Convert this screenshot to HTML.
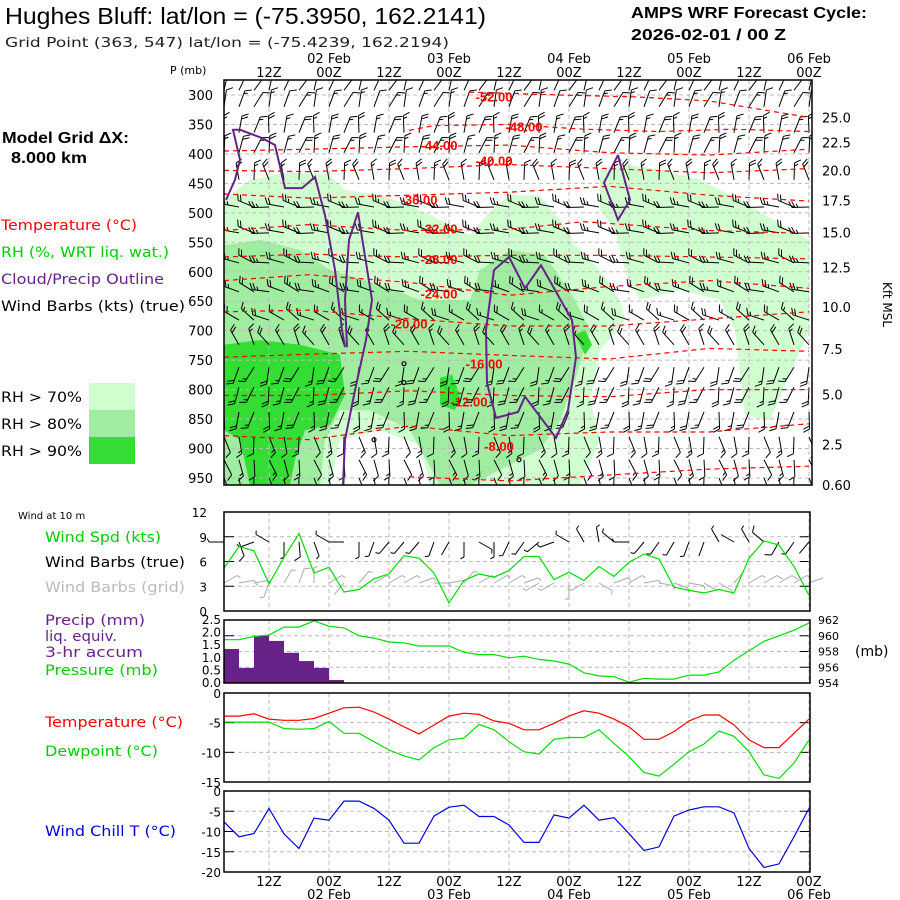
<!DOCTYPE html>
<html><head><meta charset="utf-8"><style>
html,body{margin:0;padding:0;background:#fff;}
svg{display:block;font-family:"DejaVu Sans","Liberation Sans",sans-serif;}
</style></head><body>
<svg id="chart" width="900" height="900" viewBox="0 0 900 900" xmlns="http://www.w3.org/2000/svg">
<rect width="900" height="900" fill="#fff"/>
<g>
<text x="5" y="24" font-family="Liberation Sans, sans-serif" font-size="23" textLength="481" lengthAdjust="spacingAndGlyphs">Hughes Bluff:  lat/lon = (-75.3950, 162.2141)</text>
<text x="5" y="47" font-size="13" fill="#222" textLength="444" lengthAdjust="spacingAndGlyphs">Grid Point (363, 547) lat/lon = (-75.4239, 162.2194)</text>
<text x="631" y="18" font-family="Liberation Sans, sans-serif" font-weight="bold" font-size="16" textLength="236" lengthAdjust="spacingAndGlyphs">AMPS WRF Forecast Cycle:</text>
<text x="631" y="40" font-family="Liberation Sans, sans-serif" font-weight="bold" font-size="16" textLength="155" lengthAdjust="spacingAndGlyphs">2026-02-01 / 00  Z</text>
<text x="2" y="143" font-family="Liberation Sans, sans-serif" font-weight="bold" font-size="16" textLength="127" lengthAdjust="spacingAndGlyphs">Model Grid ΔX:</text>
<text x="11" y="163" font-family="Liberation Sans, sans-serif" font-weight="bold" font-size="16" textLength="76" lengthAdjust="spacingAndGlyphs">8.000 km</text>
</g>
<g font-size="14">
<text x="1" y="230" fill="#ff0000" textLength="136" lengthAdjust="spacingAndGlyphs">Temperature (°C)</text>
<text x="1" y="257" fill="#00cc00" textLength="168" lengthAdjust="spacingAndGlyphs">RH (%, WRT liq. wat.)</text>
<text x="1" y="284" fill="#662288" textLength="163" lengthAdjust="spacingAndGlyphs">Cloud/Precip Outline</text>
<text x="1" y="311" fill="#000" textLength="184" lengthAdjust="spacingAndGlyphs">Wind Barbs (kts) (true)</text>
<text x="1" y="402" textLength="81" lengthAdjust="spacingAndGlyphs">RH &gt; 70%</text>
<text x="1" y="429" textLength="81" lengthAdjust="spacingAndGlyphs">RH &gt; 80%</text>
<text x="1" y="456" textLength="81" lengthAdjust="spacingAndGlyphs">RH &gt; 90%</text>
<rect x="89" y="383" width="46" height="27" fill="#d0ffd0"/>
<rect x="89" y="410" width="46" height="27" fill="#a0eca0"/>
<rect x="89" y="437" width="46" height="27" fill="#33dd33"/>
</g>
<g font-size="14">
<text x="18" y="519" font-size="10">Wind at 10 m</text>
<text x="45" y="542" fill="#00cc00" textLength="116" lengthAdjust="spacingAndGlyphs">Wind Spd (kts)</text>
<text x="45" y="567" fill="#000" textLength="140" lengthAdjust="spacingAndGlyphs">Wind Barbs (true)</text>
<text x="45" y="592" fill="#bbbbbb" textLength="140" lengthAdjust="spacingAndGlyphs">Wind Barbs (grid)</text>
<text x="45" y="625" fill="#662288" textLength="100" lengthAdjust="spacingAndGlyphs">Precip (mm)</text>
<text x="45" y="641" fill="#662288" textLength="72" lengthAdjust="spacingAndGlyphs">liq. equiv.</text>
<text x="45" y="657" fill="#662288" textLength="98" lengthAdjust="spacingAndGlyphs">3-hr accum</text>
<text x="45" y="675" fill="#00cc00" textLength="113" lengthAdjust="spacingAndGlyphs">Pressure (mb)</text>
<text x="45" y="727" fill="#ff0000" textLength="138" lengthAdjust="spacingAndGlyphs">Temperature (°C)</text>
<text x="45" y="756" fill="#00cc00" textLength="113" lengthAdjust="spacingAndGlyphs">Dewpoint (°C)</text>
<text x="45" y="836" fill="#0000dd" textLength="131" lengthAdjust="spacingAndGlyphs">Wind Chill T (°C)</text>
</g>
<g id="layer"></g>
</svg>
<script>
// ---------- data ----------
const hours = [3,6,9,12,15,18,21,24,27,30,33,36,39,42,45,48,51,54,57,60,63,66,69,72,75,78,81,84,87,90,93,96,99,102,105,108,111,114,117,120];
const windSpd = [5.2,7.8,7.3,3.3,6.5,9.4,4.6,5.3,2.3,2.6,3.9,4.5,6.7,6.4,4.6,1.0,3.7,4.5,4.1,4.9,6.6,6.6,3.8,4.7,3.7,5.4,4.2,5.9,6.9,6.3,2.9,2.5,2.2,2.6,2.2,6.4,8.5,8.0,5.4,1.9];
const windDirTrue = [270,160,250,300,180,175,160,300,270,180,200,220,220,220,200,210,180,120,180,205,215,230,250,300,330,350,310,270,220,215,210,200,200,330,300,330,310,210,215,220];
const windDirGrid = [60,80,80,200,30,20,0,60,220,40,60,60,60,70,90,80,40,60,60,60,70,240,240,180,240,120,70,60,80,100,110,100,120,120,40,60,60,60,60,70];
const pressure = [959.5,959.5,959.9,960.1,961.1,961.1,961.9,961.2,961.0,960.0,959.7,959.2,959.1,958.7,958.7,958.7,957.9,957.6,957.6,957.2,957.4,957.0,956.8,956.4,955.3,954.9,954.8,954.1,954.6,954.5,954.5,955.0,955.0,955.4,956.9,958.1,959.3,960.0,960.7,961.6];
const precip = [1.35,0.6,1.87,1.67,1.2,0.87,0.6,0.12,0,0,0,0,0,0,0,0,0,0,0,0,0,0,0,0,0,0,0,0,0,0,0,0,0,0,0,0,0,0,0];
const tempC = [-3.9,-3.9,-3.5,-4.4,-4.6,-4.6,-4.3,-3.4,-2.5,-2.4,-3.2,-4.4,-5.7,-6.9,-5.4,-3.9,-3.4,-3.6,-4.7,-5.1,-6.2,-6.2,-5.1,-3.9,-3.0,-3.4,-4.4,-5.7,-7.8,-7.8,-6.5,-4.7,-3.7,-3.7,-5.4,-7.9,-9.2,-9.2,-6.8,-4.4];
const dewC = [-4.9,-4.9,-4.9,-4.9,-6.0,-6.1,-6.0,-4.8,-6.8,-6.8,-8.2,-9.6,-10.6,-11.3,-9.2,-7.9,-7.6,-5.3,-6.2,-8.2,-9.9,-10.3,-7.8,-7.5,-7.5,-6.2,-8.5,-10.7,-13.4,-14.0,-12.0,-9.9,-8.6,-6.4,-7.3,-9.9,-13.8,-14.4,-11.8,-7.9];
const windChill = [-7.6,-11.3,-10.5,-4.3,-10.6,-14.2,-6.7,-7.2,-2.5,-2.5,-4.3,-7.2,-12.9,-12.9,-6.2,-4.0,-3.5,-6.3,-6.3,-8.4,-12.7,-12.7,-5.9,-6.7,-3.5,-7.2,-6.6,-10.5,-14.7,-13.8,-6.2,-4.7,-3.9,-3.9,-5.4,-14.2,-18.9,-18.0,-11.3,-4.3];
const pLevels = [292,320,364,398,444,490,534,585,634,682,724,762,796,838,880,919,950];
const levelDir = [25,20,10,15,350,280,280,285,290,300,330,200,195,190,170,165,170];
const levelSpd = [10,10,15,15,15,20,20,20,20,15,15,15,15,15,10,10,10];
const pTicks = [300,350,400,450,500,550,600,650,700,750,800,850,900,950];
const kftTicks = ["25.0","22.5","20.0","17.5","15.0","12.5","10.0","7.5","5.0","2.5","0.60"];
const kftPress = [338,381,428,479,533,593,660,731,808,893,962];
const timeTicks = [12,24,36,48,60,72,84,96,108,120];
const timeLabels = ["12Z","00Z","12Z","00Z","12Z","00Z","12Z","00Z","12Z","00Z"];
const dateTicks = [24,48,72,96,120];
const dateLabels = ["02 Feb","03 Feb","04 Feb","05 Feb","06 Feb"];
// temperature contours [hour, pressure]
const isoLabels = ["-52.00","-48.00","-44.00","-40.00","-36.00","-32.00","-28.00","-24.00","-20.00","-16.00","-12.00","-8.00",""];
const isoLabelPos = [[57,311],[63,362],[46,393],[57,420],[42,486],[46,535],[46,587],[46,645],[40,696],[55,764],[52,829],[58,904],[0,0]];
const isotherms = [
 [[52,295],[70,300],[85,303],[100,310],[120,338]],
 [[40,360],[45,352],[60,350],[75,358],[90,362],[105,358],[120,362]],
 [[3,395],[20,392],[40,388],[60,385],[80,398],[100,402],[120,392]],
 [[3,428],[20,430],[40,425],[60,418],[80,425],[100,432],[120,425]],
 [[3,468],[20,475],[40,470],[60,465],[80,455],[100,470],[120,480]],
 [[3,530],[20,520],[40,530],[60,528],[75,515],[100,530],[120,535]],
 [[3,575],[20,570],[40,575],[60,572],[80,572],[100,575],[120,578]],
 [[3,615],[20,605],[40,618],[60,640],[80,625],[100,615],[120,628]],
 [[3,668],[20,665],[40,680],[60,692],[80,692],[100,680],[120,668]],
 [[3,745],[20,740],[40,735],[60,742],[80,748],[100,730],[120,735]],
 [[3,810],[20,810],[40,802],[60,810],[80,812],[100,800],[120,800]],
 [[3,878],[20,885],[40,862],[60,878],[80,872],[100,872],[120,858]],
 [[40,948],[60,955],[80,945],[100,935],[120,930]]
];
const rh70 = [
 [[3,478],[8.2,444],[16.2,431],[24.2,436],[27.2,461],[34.2,470],[40.2,487],[46.2,512],[52.2,538],[56,500],[60,470],[66,470],[70.2,512],[73.2,555],[78.2,597],[82.2,648],[83.2,682],[78.2,733],[76.2,818],[78.2,885],[74.2,962],[44.2,962],[42.2,894],[34.2,869],[26.2,885],[24.2,962],[3,962]],
 [[78.2,427],[84.2,419],[90.2,427],[98.2,444],[106.2,478],[116.2,529],[120,546],[120,699],[112.2,852],[107.2,843],[105.2,699],[102.2,648],[94.2,631],[86.2,648],[83.2,597],[81.2,529],[78.2,495]]
];
const rh80 = [
 [[3,555],[10.2,546],[18.2,563],[24.2,597],[34.2,622],[42.2,648],[52.2,648],[54.2,597],[60.2,563],[67.2,572],[73.2,648],[76.2,699],[73.2,784],[70.2,852],[66.2,902],[58.2,936],[52.2,962],[46.2,962],[40.2,869],[32.2,835],[26.2,835],[23.2,885],[22.2,962],[3,962]]
];
const rh90 = [
 [[3,724],[10.2,716],[18.2,724],[26.2,741],[27.2,809],[24.2,860],[19.2,869],[17.2,919],[16.2,962],[8.2,962],[6.2,885],[3,869]],
 [[46.2,780],[48.6,775],[50.2,809],[49.2,835],[46.2,826]],
 [[73.2,707],[75.2,699],[76.6,724],[75.2,741]]
];
const cloudOutlines = [
 [[3.4,478],[5.2,444],[6.2,410],[4.8,359],[6.2,359],[10.6,373],[13.2,385],[15.2,458],[18.6,458],[21.2,439],[23.2,504],[25.2,597],[26.6,699],[27.2,728]],
 [[27.6,728],[27.2,648],[28,546],[29.8,499],[31,563],[32.6,648],[31.4,716],[29.2,801],[27.2,885],[26.8,962]],
 [[57,597],[60,575],[63.2,628],[66.4,589],[72.6,682],[73.4,745],[71.8,835],[69.4,882],[63.2,812],[61.8,838],[57.4,848],[55.6,789],[55.4,699],[57,597]],
 [[81.8,402],[84.2,478],[81.8,512],[79,449],[81.8,402]]
];
const calmPoints = [[39,756],[39,788],[33,885],[62,919]];

// ---------- helpers ----------
const NS="http://www.w3.org/2000/svg";
const layer=document.getElementById('layer');
const X0=224,X1=809;
function xh(h){return X0+(h-3)*(X1-X0)/117;}
function yp(p){return 95+(p-300)*0.5892;}
function ySpd(v){return 611-v*99/12;}
function yPres(p){return 683-(p-954)*63/8;}
function yPrecip(m){return 683-m*63/2.5;}
function yTemp(t){return 693-t*89/15;}
function yWC(t){return 791-t*81/20;}
function el(tag,attrs,parent){const e=document.createElementNS(NS,tag);for(const k in attrs)e.setAttribute(k,attrs[k]);(parent||layer).appendChild(e);return e;}
function txt(x,y,s,attrs,parent){const e=el('text',Object.assign({x:x,y:y},attrs||{}),parent);e.textContent=s;return e;}
function barb(g,x,y,dir,spd,len,color){
  const r=dir*Math.PI/180,sx=Math.sin(r),sy=-Math.cos(r);
  const ex=x+len*sx,ey=y+len*sy;
  let d=`M${x},${y}L${ex},${ey}`;
  const fx=Math.sin(r+1.1),fy=-Math.cos(r+1.1);
  let n=Math.floor(spd/10),half=(spd%10)>=5;let pos=0;
  for(let i=0;i<n;i++){const bx=ex-sx*pos,by=ey-sy*pos;d+=`M${bx},${by}l${fx*7},${fy*7}`;pos+=3;}
  if(half){const bx=ex-sx*pos,by=ey-sy*pos;d+=`M${bx},${by}l${fx*4},${fy*4}`;}
  return el('path',{d:d,stroke:color,'stroke-width':1,fill:'none'},g);
}
function polyPts(pts,fx,fy){return pts.map(p=>fx(p[0]).toFixed(1)+','+fy(p[1]).toFixed(1)).join(' ');}
function linePath(vals,fy){return vals.map((v,i)=>(i?'L':'M')+xh(hours[i]).toFixed(1)+','+fy(v).toFixed(1)).join('');}

// ---------- upper panel ----------
const up=el('g',{});


const clip=el('clipPath',{id:'clipUp'},up);el('rect',{x:224,y:80,width:588,height:405},clip);
const upc=el('g',{'clip-path':'url(#clipUp)'},up);
rh70.forEach(poly=>{const e=el('polygon',{points:polyPts(poly,xh,yp),fill:'#d0ffd0'},upc);

});
rh80.forEach(poly=>{const e=el('polygon',{points:polyPts(poly,xh,yp),fill:'#a0eca0'},upc);

});
rh90.forEach(poly=>{const e=el('polygon',{points:polyPts(poly,xh,yp),fill:'#33dd33'},upc);

});
// grid
pTicks.forEach(p=>{const e=el('line',{x1:224,x2:812,y1:yp(p),y2:yp(p),stroke:'#bbb','stroke-dasharray':'4,3'},upc);

});
timeTicks.forEach(h=>{const e=el('line',{x1:xh(h),x2:xh(h),y1:80,y2:485,stroke:'#bbb','stroke-dasharray':'4,3'},upc);

});
// barbs
const barbG=el('g',{},upc);


pLevels.forEach((p,li)=>{hours.forEach((h,hi)=>{
  const b=barb(barbG,xh(h),yp(p),levelDir[li]+((hi%3)-1)*12,levelSpd[li]+((hi%2)*5),17,'#000');
  
  
});});
// isotherms
isotherms.forEach((c,i)=>{const e=el('polyline',{points:polyPts(c,xh,yp),fill:'none',stroke:'#ff0000','stroke-dasharray':'5,4','stroke-width':1.2},upc);


if(isoLabels[i]){const t=txt(xh(isoLabelPos[i][0]),yp(isoLabelPos[i][1]),isoLabels[i],{fill:'#ff0000','font-weight':'bold','font-size':13,'text-anchor':'middle','font-family':'Liberation Sans, sans-serif'},upc);

}});
cloudOutlines.forEach(c=>{const e=el('polyline',{points:polyPts(c,xh,yp),fill:'none',stroke:'#662288','stroke-width':2},upc);

});
calmPoints.forEach(c=>{const e=el('circle',{cx:xh(c[0]),cy:yp(c[1]),r:2,fill:'none',stroke:'#000','stroke-width':1.2},upc);

});
const upFrame=el('rect',{x:224,y:80,width:588,height:405,fill:'none',stroke:'#000','stroke-width':1.5},up);


pTicks.forEach(p=>{const t=txt(213,yp(p)+5,String(p),{'font-size':13,'text-anchor':'end'},up);

});
const pm=txt(170,74,'P (mb)',{'font-size':11},up);


kftTicks.forEach((k,i)=>{const t=txt(822,yp(kftPress[i])+5,k,{'font-size':13},up);

});
const kt=txt(883,282,'Kft MSL',{'font-size':12,transform:'rotate(90 883 282)'},up);


timeTicks.forEach((h,i)=>{const t=txt(xh(h),77,timeLabels[i],{'font-size':13,'text-anchor':'middle'},up);

});
dateTicks.forEach((h,i)=>{const t=txt(xh(h),63,dateLabels[i],{'font-size':13,'text-anchor':'middle'},up);

});

// ---------- lower panels ----------
function panel(name,y0,y1,gridYs){
  const g=el('g',{});
  
  
  gridYs.forEach(y=>{const e=el('line',{x1:224,x2:810,y1:y,y2:y,stroke:'#bbb','stroke-dasharray':'4,3'},g);
  
  
  el('line',{x1:224,x2:234,y1:y,y2:y,stroke:'#000'},g);el('line',{x1:800,x2:810,y1:y,y2:y,stroke:'#000'},g);});
  timeTicks.forEach(h=>{const e=el('line',{x1:xh(h),x2:xh(h),y1:y0,y2:y1,stroke:'#bbb','stroke-dasharray':'4,3'},g);
  
  });
  return g;
}
function frame(g,y0,y1){const f=el('rect',{x:224,y:y0,width:586,height:y1-y0,fill:'none',stroke:'#000','stroke-width':1.5},g);

}
function yLabels(g,vals,fy,x,anchor){vals.forEach(v=>{const t=txt(x,fy(v)+5,String(v),{'font-size':12,'text-anchor':anchor||'end'},g);

});}

// wind panel
const wp=panel('wind-panel',512,611,[3,6,9].map(ySpd));
hours.forEach((h,i)=>{const b=barb(wp,xh(h),583,windDirGrid[i],Math.round(windSpd[i]/5)*5,15,'#aaaaaa');

});
hours.forEach((h,i)=>{const b=barb(wp,xh(h),542,windDirTrue[i],Math.round(windSpd[i]/5)*5,15,'#000');

});
const ws=el('path',{d:linePath(windSpd,ySpd),fill:'none',stroke:'#00dd00','stroke-width':1.2},wp);


frame(wp,512,611);
yLabels(wp,[0,3,6,9,12],ySpd,207);

// precip/pressure panel
const pp=panel('precip-pressure-panel',620,683,[956,958,960].map(yPres));
precip.forEach((m,i)=>{if(m<=0)return;const b=el('rect',{x:xh(hours[i]),y:yPrecip(m),width:xh(hours[i+1])-xh(hours[i]),height:683-yPrecip(m),fill:'#662288'},pp);

});
const pl=el('path',{d:linePath(pressure,yPres),fill:'none',stroke:'#00dd00','stroke-width':1.2},pp);


frame(pp,620,683);
[0,0.5,1,1.5,2,2.5].forEach(v=>{const t=txt(221,yPrecip(v)+4,v.toFixed(1),{'font-size':12,'text-anchor':'end'},pp);

});
[954,956,958,960,962].forEach(v=>{const t=txt(818,yPres(v)+4,String(v),{'font-size':11},pp);

});
const mb=txt(855,656,'(mb)',{'font-size':14},pp);



// temperature panel
const tp=panel('temperature-panel',693,782,[-5,-10].map(yTemp));
const tl=el('path',{d:linePath(tempC,yTemp),fill:'none',stroke:'#ff0000','stroke-width':1.2},tp);


const dl=el('path',{d:linePath(dewC,yTemp),fill:'none',stroke:'#00dd00','stroke-width':1.2},tp);


frame(tp,693,782);
yLabels(tp,[0,-5,-10,-15],yTemp,221);

// wind chill panel
const cp=panel('wind-chill-panel',791,872,[-5,-10,-15].map(yWC));
const cl=el('path',{d:linePath(windChill,yWC),fill:'none',stroke:'#0000dd','stroke-width':1.2},cp);


frame(cp,791,872);
yLabels(cp,[0,-5,-10,-15,-20],yWC,221);
timeTicks.forEach((h,i)=>{const t=txt(xh(h),886,timeLabels[i],{'font-size':13,'text-anchor':'middle'},cp);

});
dateTicks.forEach((h,i)=>{const t=txt(xh(h),899,dateLabels[i],{'font-size':13,'text-anchor':'middle'},cp);

});
</script>
</body></html>
